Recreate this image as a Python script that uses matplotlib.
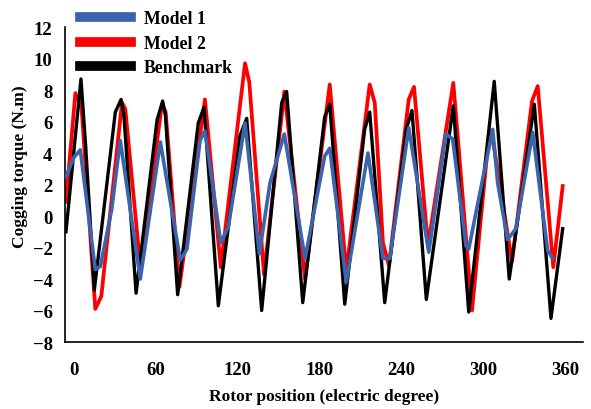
import matplotlib
matplotlib.use("Agg")
import matplotlib.pyplot as plt

# rotor position (electric degree) and cogging torque (N.m)
model1_x = [-5.9, -0.2, 4.6, 15.6, 19.3, 27.6, 33.9, 48.6, 63.3, 77.9, 82.8, 92.4, 96.0,
            107.6, 113.1, 125.4, 135.9, 143.7, 154.2, 169.4, 183.8, 187.5, 199.6, 215.5,
            226.5, 231.5, 245.4, 260.1, 272.7, 277.6, 287.4, 289.4, 297.2, 307.0, 310.6,
            317.9, 324.0, 336.3, 347.3, 351.0]
model1_y = [2.5, 3.7, 4.2, -3.4, -3.2, 0.4, 4.8, -4.0, 4.7, -2.8, -2.1, 4.8, 5.4,
            -1.7, -0.7, 5.9, -2.4, 2.1, 5.2, -2.7, 3.8, 4.3, -4.2, 4.0,
            -2.7, -2.7, 5.6, -2.3, 5.2, 4.9, -1.9, -2.1, 1.3, 5.5, 2.1,
            -1.5, -0.8, 5.3, -2.2, -2.7]

model2_x = [-5.9, 1.0, 5.6, 15.6, 20.0, 35.2, 37.6, 48.6, 64.5, 67.2, 77.3, 96.0, 107.6,
            125.4, 128.5, 139.3, 154.2, 169.4, 187.5, 199.6, 216.8, 220.5, 226.5, 230.9,
            245.4, 249.3, 259.5, 278.1, 291.8, 304.5, 306.1, 321.1, 335.8, 340.0, 351.4,
            358.3]
model2_y = [0.9, 7.8, 6.8, -5.9, -5.1, 7.2, 6.8, -3.2, 7.1, 6.6, -4.5, 7.4, -3.25,
            9.7, 8.5, -3.7, 7.9, -4.0, 8.35, -3.5, 8.35, 7.2, -1.7, -3.15,
            7.4, 8.2, -1.9, 8.45, -6.0, 5.4, 5.4, -2.9, 7.3, 8.25, -3.25,
            1.9]

bench_x = [-5.9, 5.1, 8.5, 14.9, 30.3, 34.5, 36.5, 45.5, 60.9, 65.0, 67.0, 76.0, 91.1,
           95.3, 105.8, 121.7, 126.6, 137.6, 152.3, 155.9, 167.7, 183.8, 187.5, 198.5,
           213.1, 216.8, 227.8, 243.6, 247.8, 258.3, 278.1, 289.4, 308.1, 319.1, 337.5,
           349.7, 358.3]
bench_y = [-1.0, 8.7, 4.5, -4.7, 6.6, 7.4, 6.5, -4.9, 6.1, 7.3, 6.4, -5.0, 5.9,
           6.9, -5.7, 5.1, 6.2, -6.0, 7.2, 7.9, -5.5, 6.3, 7.1, -5.6,
           5.5, 6.6, -5.5, 5.5, 6.7, -5.3, 7.0, -6.1, 8.55, -4.0, 7.1,
           -6.5, -0.8]

x_ticks = [0, 60, 120, 180, 240, 300, 360]
y_ticks = [-8, -6, -4, -2, 0, 2, 4, 6, 8, 10, 12]

plt.rcParams['font.family'] = ['Liberation Serif', 'DejaVu Serif']
plt.rcParams['font.weight'] = 'bold'

fig = plt.figure(figsize=(5.91, 4.10), dpi=100)
ax = fig.add_axes([0.110, 0.1634, 0.8765, 0.7683])

ax.plot(model1_x, model1_y, color='#3B64AD', lw=2.6, label='Model 1', zorder=3,
        solid_joinstyle='round')
ax.plot(model2_x, model2_y, color='#FF0000', lw=2.7, label='Model 2', zorder=1,
        solid_joinstyle='round')
ax.plot(bench_x, bench_y, color='black', lw=2.4, label='Benchmark', zorder=2,
        solid_joinstyle='round')

ax.set_xlim(-6.6, 373.2)
ax.set_ylim(-8, 12)
ax.set_xticks(x_ticks)
ax.set_yticks(y_ticks)
ax.tick_params(axis='both', length=0, labelsize=13.5)
ax.tick_params(axis='x', pad=14)
ax.tick_params(axis='y', pad=9)
for lbl in ax.get_xticklabels() + ax.get_yticklabels():
    lbl.set_fontweight('bold')

ax.spines['top'].set_visible(False)
ax.spines['right'].set_visible(False)
ax.spines['left'].set_linewidth(1.2)
ax.spines['bottom'].set_linewidth(1.2)

ax.set_xlabel('Rotor position (electric degree)', fontsize=12.5, fontweight='bold')
ax.set_ylabel('Cogging torque (N.m)', fontsize=12.5, fontweight='bold')
ax.xaxis.set_label_coords(0.5, -0.145)
ax.yaxis.set_label_coords(-0.072, 0.56)

leg = ax.legend(loc='upper left', bbox_to_anchor=(0.135, 0.972),
                bbox_transform=fig.transFigure, frameon=False, fontsize=12.8,
                handlelength=2.9, handletextpad=0.7, labelspacing=0.42,
                borderpad=0, borderaxespad=0)
for h in leg.get_lines():
    h.set_linewidth(7)

fig.savefig('out.png', dpi=100)
